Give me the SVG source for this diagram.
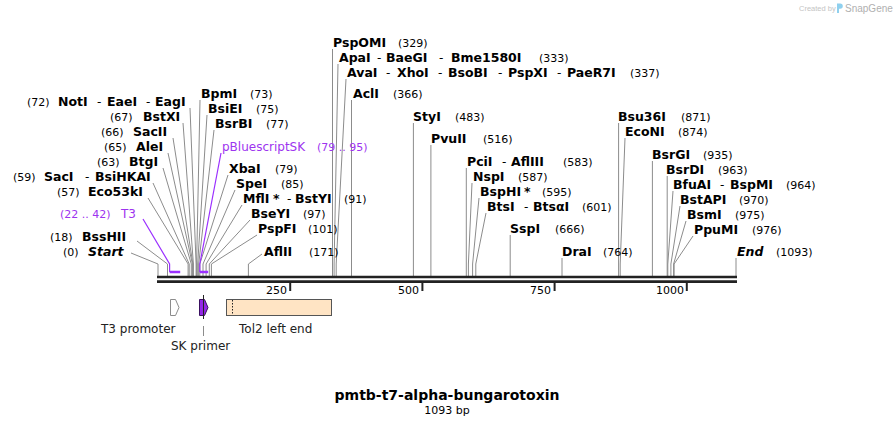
<svg xmlns="http://www.w3.org/2000/svg" width="895" height="426" viewBox="0 0 895 426">
<style>
text{font-family:"DejaVu Sans","Verdana",sans-serif;fill:#000}
.n{font-weight:bold;font-size:12.5px}
.i{font-weight:bold;font-style:italic;font-size:12.5px}
.p{font-weight:normal;font-size:11px}
.d{font-weight:normal;font-size:12px}
.pu{fill:#9d34ef;font-size:12px;font-weight:normal}
.pun{fill:#9d34ef;font-size:11px;font-weight:normal}
.f{font-size:12px;fill:#222}
.l{stroke:#8c8c8c;stroke-width:1;fill:none}
.lp{stroke:#9b30ff;stroke-width:1.2;fill:none}
.mk{stroke:#9b30ff;stroke-width:2.5;fill:none}
.bar{stroke:#222;stroke-width:2.6}
.tick{stroke:#222;stroke-width:2}
</style>

<g id="watermark">
<text x="799" y="11" style="font-family:'Liberation Sans',sans-serif;font-size:7.5px;fill:#c4c4c4">Created by</text>
<path d="M837 3.5h3.2a2.6 2.6 0 0 1 0 5.2h-1.2v4.3h-2z" fill="#8fd0ee"/>
<text x="845" y="12" style="font-family:'Liberation Sans',sans-serif;font-size:10px;fill:#b0b0b0">SnapGene</text>
</g>

<g id="connectors">
<polyline class="l" points="190,108 196.1,264 196.1,276"/>
<polyline class="l" points="183,123 193.4,264 193.4,276"/>
<polyline class="l" points="173,138 192.9,264 192.9,276"/>
<polyline class="l" points="168,153 192.4,264 192.4,276"/>
<polyline class="l" points="163,168 191.3,264 191.3,276"/>
<polyline class="l" points="153,183 189.2,264 189.2,276"/>
<polyline class="l" points="148,198 188.1,264 188.1,276"/>
<polyline class="l" points="137,241 167.5,264 167.5,276"/>
<polyline class="l" points="131,253 158,264 158,276"/>
<polyline class="l" points="200,100 196.6,264 196.6,276"/>
<polyline class="l" points="207,115 197.7,264 197.7,276"/>
<polyline class="l" points="214,130 198.7,264 198.7,276"/>
<polyline class="l" points="228,175 199.8,264 199.8,276"/>
<polyline class="l" points="235,190 203,264 203,276"/>
<polyline class="l" points="242,205 206.1,264 206.1,276"/>
<polyline class="l" points="250,220 209.3,264 209.3,276"/>
<polyline class="l" points="257,235 211.4,264 211.4,276"/>
<polyline class="l" points="262,254 248.4,264 248.4,276"/>
<polyline class="l" points="332.5,49 332.5,276"/>
<polyline class="l" points="338,64 334.1,264 334.1,276"/>
<polyline class="l" points="346,79 336.2,264 336.2,276"/>
<polyline class="l" points="351.5,100 351.5,276"/>
<polyline class="l" points="413.4,123 413.4,276"/>
<polyline class="l" points="430.9,145 430.9,276"/>
<polyline class="l" points="466.3,168 466.3,276"/>
<polyline class="l" points="472,183 468.4,264 468.4,276"/>
<polyline class="l" points="479,198 472.6,264 472.6,276"/>
<polyline class="l" points="486,213 475.8,264 475.8,276"/>
<polyline class="l" points="510.2,235 510.2,276"/>
<polyline class="l" points="562,258 562,276"/>
<polyline class="l" points="618.6,123 618.6,276"/>
<polyline class="l" points="625,138 620.2,264 620.2,276"/>
<polyline class="l" points="652.4,161 652.4,276"/>
<polyline class="l" points="667.2,176 667.2,276"/>
<polyline class="l" points="673,191 667.8,264 667.8,276"/>
<polyline class="l" points="680,206 670.9,264 670.9,276"/>
<polyline class="l" points="686,221 673.6,264 673.6,276"/>
<polyline class="l" points="693,236 674.1,264 674.1,276"/>
<polyline class="l" points="736,258 736,276"/>
<polyline class="lp" points="143,219 169.6,264 169.6,272"/>
<line class="mk" x1="169.6" y1="272" x2="180.2" y2="272"/>
<polyline class="lp" points="221,153 199.8,264 199.8,272"/>
<line class="mk" x1="199.8" y1="272" x2="208.2" y2="272"/>
<line x1="203.5" y1="326" x2="203.5" y2="336" stroke="#8c8c8c" stroke-width="1"/>
</g>

<g id="sequence">
<line class="bar" x1="157" y1="277" x2="737" y2="277"/>
<line class="bar" x1="157" y1="281.6" x2="737" y2="281.6"/>
<line class="tick" x1="290.2" y1="282" x2="290.2" y2="291"/>
<line class="tick" x1="422.4" y1="282" x2="422.4" y2="291"/>
<line class="tick" x1="554.6" y1="282" x2="554.6" y2="291"/>
<line class="tick" x1="686.8" y1="282" x2="686.8" y2="291"/>
<text class="p" x="287" y="294" text-anchor="end">250</text>
<text class="p" x="419" y="294" text-anchor="end">500</text>
<text class="p" x="551" y="294" text-anchor="end">750</text>
<text class="p" x="684" y="294" text-anchor="end">1000</text>
</g>

<g id="site-NotI"><text y="106"><tspan class="p" x="27">(72)</tspan><tspan class="n" x="58">NotI</tspan><tspan class="d" x="97">-</tspan><tspan class="n" x="107">EaeI</tspan><tspan class="d" x="146">-</tspan><tspan class="n" x="155">EagI</tspan></text></g>
<g id="site-BstXI"><text y="121"><tspan class="p" x="110">(67)</tspan><tspan class="n" x="143">BstXI</tspan></text></g>
<g id="site-SacII"><text y="136"><tspan class="p" x="101">(66)</tspan><tspan class="n" x="133">SacII</tspan></text></g>
<g id="site-AleI"><text y="151"><tspan class="p" x="104">(65)</tspan><tspan class="n" x="136">AleI</tspan></text></g>
<g id="site-BtgI"><text y="166"><tspan class="p" x="97">(63)</tspan><tspan class="n" x="129">BtgI</tspan></text></g>
<g id="site-SacI"><text y="181"><tspan class="p" x="13">(59)</tspan><tspan class="n" x="44">SacI</tspan><tspan class="d" x="85">-</tspan><tspan class="n" x="95">BsiHKAI</tspan></text></g>
<g id="site-Eco53kI"><text y="196"><tspan class="p" x="57">(57)</tspan><tspan class="n" x="88">Eco53kI</tspan></text></g>
<g id="feature-T3-label"><text y="218"><tspan class="pun" x="60">(22 .. 42)</tspan><tspan class="pu" x="121">T3</tspan></text></g>
<g id="site-BssHII"><text y="241"><tspan class="p" x="50">(18)</tspan><tspan class="n" x="82">BssHII</tspan></text></g>
<g id="site-Start"><text y="256"><tspan class="p" x="63">(0)</tspan><tspan class="i" x="88">Start</tspan></text></g>

<g id="site-BpmI"><text y="98"><tspan class="n" x="201">BpmI</tspan><tspan class="p" x="250">(73)</tspan></text></g>
<g id="site-BsiEI"><text y="113"><tspan class="n" x="208">BsiEI</tspan><tspan class="p" x="256">(75)</tspan></text></g>
<g id="site-BsrBI"><text y="128"><tspan class="n" x="215">BsrBI</tspan><tspan class="p" x="266">(77)</tspan></text></g>
<g id="feature-pBluescriptSK-label"><text y="151"><tspan class="pu" x="222">pBluescriptSK</tspan><tspan class="pun" x="317">(79 .. 95)</tspan></text></g>
<g id="site-XbaI"><text y="173"><tspan class="n" x="229">XbaI</tspan><tspan class="p" x="275">(79)</tspan></text></g>
<g id="site-SpeI"><text y="188"><tspan class="n" x="236">SpeI</tspan><tspan class="p" x="281">(85)</tspan></text></g>
<g id="site-MflI"><text y="203"><tspan class="n" x="243">MflI</tspan><tspan class="n" x="273">*</tspan><tspan class="d" x="287">-</tspan><tspan class="n" x="295">BstYI</tspan><tspan class="p" x="344">(91)</tspan></text></g>
<g id="site-BseYI"><text y="218"><tspan class="n" x="251">BseYI</tspan><tspan class="p" x="303">(97)</tspan></text></g>
<g id="site-PspFI"><text y="233"><tspan class="n" x="258">PspFI</tspan><tspan class="p" x="308">(101)</tspan></text></g>
<g id="site-AflII"><text y="256"><tspan class="n" x="264">AflII</tspan><tspan class="p" x="309">(171)</tspan></text></g>

<g id="site-PspOMI"><text y="47"><tspan class="n" x="333">PspOMI</tspan><tspan class="p" x="398">(329)</tspan></text></g>
<g id="site-ApaI"><text y="62"><tspan class="n" x="339">ApaI</tspan><tspan class="d" x="377">-</tspan><tspan class="n" x="386">BaeGI</tspan><tspan class="d" x="439">-</tspan><tspan class="n" x="451">Bme1580I</tspan><tspan class="p" x="539">(333)</tspan></text></g>
<g id="site-AvaI"><text y="77"><tspan class="n" x="347">AvaI</tspan><tspan class="d" x="386">-</tspan><tspan class="n" x="397">XhoI</tspan><tspan class="d" x="438">-</tspan><tspan class="n" x="448">BsoBI</tspan><tspan class="d" x="498">-</tspan><tspan class="n" x="508">PspXI</tspan><tspan class="d" x="557">-</tspan><tspan class="n" x="567">PaeR7I</tspan><tspan class="p" x="630">(337)</tspan></text></g>
<g id="site-AclI"><text y="98"><tspan class="n" x="353">AclI</tspan><tspan class="p" x="393">(366)</tspan></text></g>

<g id="site-StyI"><text y="121"><tspan class="n" x="413">StyI</tspan><tspan class="p" x="455">(483)</tspan></text></g>
<g id="site-PvuII"><text y="143"><tspan class="n" x="431">PvuII</tspan><tspan class="p" x="483">(516)</tspan></text></g>
<g id="site-PciI"><text y="166"><tspan class="n" x="467">PciI</tspan><tspan class="d" x="502">-</tspan><tspan class="n" x="511">AflIII</tspan><tspan class="p" x="563">(583)</tspan></text></g>
<g id="site-NspI"><text y="181"><tspan class="n" x="473">NspI</tspan><tspan class="p" x="518">(587)</tspan></text></g>
<g id="site-BspHI"><text y="196"><tspan class="n" x="480">BspHI</tspan><tspan class="n" x="524">*</tspan><tspan class="p" x="542">(595)</tspan></text></g>
<g id="site-BtsI"><text y="211"><tspan class="n" x="487">BtsI</tspan><tspan class="d" x="524">-</tspan><tspan class="n" x="533">BtsαI</tspan><tspan class="p" x="582">(601)</tspan></text></g>
<g id="site-SspI"><text y="233"><tspan class="n" x="510">SspI</tspan><tspan class="p" x="555">(666)</tspan></text></g>
<g id="site-DraI"><text y="256"><tspan class="n" x="562">DraI</tspan><tspan class="p" x="603">(764)</tspan></text></g>

<g id="site-Bsu36I"><text y="121"><tspan class="n" x="618">Bsu36I</tspan><tspan class="p" x="681">(871)</tspan></text></g>
<g id="site-EcoNI"><text y="136"><tspan class="n" x="625">EcoNI</tspan><tspan class="p" x="678">(874)</tspan></text></g>
<g id="site-BsrGI"><text y="159"><tspan class="n" x="652">BsrGI</tspan><tspan class="p" x="703">(935)</tspan></text></g>
<g id="site-BsrDI"><text y="174"><tspan class="n" x="666">BsrDI</tspan><tspan class="p" x="718">(963)</tspan></text></g>
<g id="site-BfuAI"><text y="189"><tspan class="n" x="673">BfuAI</tspan><tspan class="d" x="720">-</tspan><tspan class="n" x="730">BspMI</tspan><tspan class="p" x="786">(964)</tspan></text></g>
<g id="site-BstAPI"><text y="204"><tspan class="n" x="680">BstAPI</tspan><tspan class="p" x="739">(970)</tspan></text></g>
<g id="site-BsmI"><text y="219"><tspan class="n" x="687">BsmI</tspan><tspan class="p" x="735">(975)</tspan></text></g>
<g id="site-PpuMI"><text y="234"><tspan class="n" x="694">PpuMI</tspan><tspan class="p" x="752">(976)</tspan></text></g>
<g id="site-End"><text y="256"><tspan class="i" x="737">End</tspan><tspan class="p" x="776">(1093)</tspan></text></g>

<g id="feature-T3-promoter">
<path d="M170.5 299.5h5l3.5 8-3.5 8h-5z" fill="#fff" stroke="#8c8c8c" stroke-width="1"/>
<text class="f" x="101" y="333">T3 promoter</text>
</g>
<g id="feature-SK-primer">
<path d="M199.5 299.5h5l3.5 8-3.5 8h-5z" fill="#9327e6" stroke="#3a1060" stroke-width="1"/>
<line x1="203.5" y1="295" x2="203.5" y2="319" stroke="#222" stroke-width="1"/>
<text class="f" x="171" y="350">SK primer</text>
</g>
<g id="feature-Tol2-left-end">
<rect x="226.5" y="299.5" width="105" height="16" fill="#ffe4c4" stroke="#555" stroke-width="1"/>
<line x1="232.5" y1="300" x2="232.5" y2="315" stroke="#222" stroke-width="1" stroke-dasharray="1.5,1.5"/>
<text class="f" x="239" y="333">Tol2 left end</text>
</g>

<g id="title">
<text x="447" y="400" text-anchor="middle" style="font-weight:bold;font-size:14px">pmtb-t7-alpha-bungarotoxin</text>
<text x="447" y="414" text-anchor="middle" style="font-size:11px">1093 bp</text>
</g>
</svg>
